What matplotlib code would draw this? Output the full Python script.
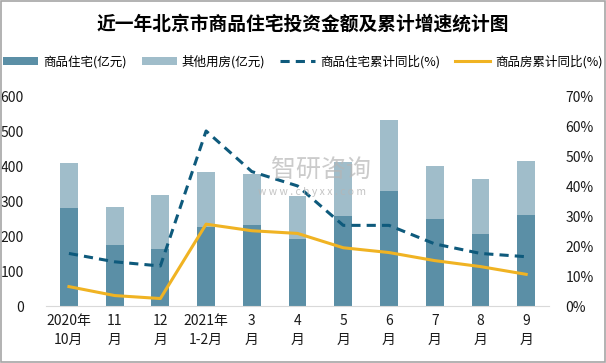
import matplotlib.pyplot as plt
import numpy as np

plt.rcParams['font.family'] = ['Noto Sans CJK SC', 'DejaVu Sans']

# 数据
months = ['2020年\n10月', '11\n月', '12\n月', '2021年\n1-2月', '3\n月', '4\n月',
          '5\n月', '6\n月', '7\n月', '8\n月', '9\n月']
residential = [282, 175, 164, 228, 233, 193, 259, 330, 250, 207, 261]
total = [411, 284, 319, 385, 380, 316, 414, 534, 402, 365, 417]
other = [t - r for t, r in zip(total, residential)]
res_yoy = [17.6, 14.8, 13.4, 58.6, 45.0, 40.2, 27.0, 27.0, 20.8, 17.6, 16.5]
all_yoy = [6.5, 3.5, 2.5, 27.4, 25.2, 24.3, 19.5, 17.9, 15.2, 13.2, 10.6]

c_dark = '#5b8fa6'
c_light = '#a0bdca'
c_dash = '#0e5a7c'
c_yellow = '#f0b323'

fig = plt.figure(figsize=(6.06, 3.63), dpi=100)
ax = fig.add_axes([0.076, 0.157, 0.830, 0.576])
x = np.arange(len(months))

b1 = ax.bar(x, residential, width=0.39, color=c_dark, zorder=2)
b2 = ax.bar(x, other, width=0.39, bottom=residential, color=c_light, zorder=2)
ax.set_ylim(0, 600)
ax.set_xlim(-0.5, len(months) - 0.5)
ax.set_yticks(range(0, 601, 100))
ax.set_xticks(x)
ax.set_xticklabels(months, fontsize=10, linespacing=1.4)
ax.tick_params(axis='both', length=0, labelsize=10, colors='#1a1a1a')
ax.tick_params(axis='y', pad=16)
ax.tick_params(axis='x', pad=6)
for s in ['top', 'right', 'left']:
    ax.spines[s].set_visible(False)
ax.spines['bottom'].set_color('#d9d9d9')

ax2 = ax.twinx()
l1, = ax2.plot(x, res_yoy, color=c_dash, lw=2.2, ls=(0, (3, 2)), zorder=3)
l2, = ax2.plot(x, all_yoy, color=c_yellow, lw=2.2, zorder=3)
ax2.set_ylim(0, 70)
ax2.set_yticks(range(0, 71, 10))
ax2.set_yticklabels([f'{v}%' for v in range(0, 71, 10)])
ax2.tick_params(axis='y', length=0, labelsize=10, colors='#1a1a1a', pad=12)
for s in ['top', 'right', 'left', 'bottom']:
    ax2.spines[s].set_visible(False)

fig.text(0.5, 0.935, '近一年北京市商品住宅投资金额及累计增速统计图',
         ha='center', va='center', fontsize=13.5, fontweight='bold')

fig.legend([b1, b2, l1, l2],
           ['商品住宅(亿元)', '其他用房(亿元)', '商品住宅累计同比(%)', '商品房累计同比(%)'],
           loc='center', bbox_to_anchor=(0.5, 0.83), ncol=4, frameon=False,
           fontsize=9, handlelength=2.8, handleheight=0.5, columnspacing=1.2,
           handletextpad=0.4)

# 水印
fig.text(0.53, 0.532, '智研咨询', fontsize=18, color='#b5b5b5', alpha=0.7,
         ha='center', va='center', zorder=5)
fig.text(0.515, 0.47, 'w w w . c h y x x . c o m', fontsize=7.5, color='#b5b5b5',
         alpha=0.8, ha='center', va='center', zorder=5)

# 外框
fig.patches.append(plt.Rectangle((0.001, 0.002), 0.997, 0.996, transform=fig.transFigure,
                                 fill=False, edgecolor='#a6a6a6', lw=1.2))

fig.savefig('out.png', dpi=100)
